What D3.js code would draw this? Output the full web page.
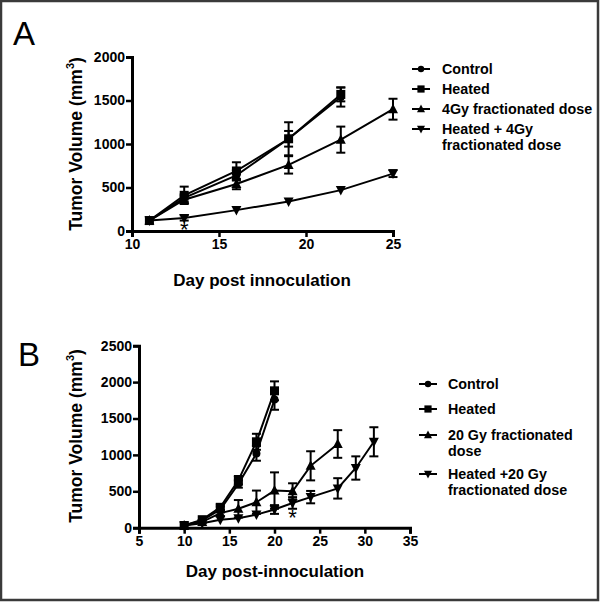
<!DOCTYPE html>
<html><head><meta charset="utf-8">
<script src="https://cdn.jsdelivr.net/npm/d3@7"></script>
<style>
html,body{margin:0;padding:0;background:#fff;}
svg{display:block;}
text{font-family:"Liberation Sans",Arial,sans-serif;}
</style></head>
<body>
<script>
// ---------- Panel A data ----------
const daysA = [11, 13, 16, 19, 22, 25];
const controlA = [120, 380, 640, 1060, 1540];
const controlAErr = [15, 40, 60, 190, 110];
const heatedA = [120, 410, 690, 1060, 1570];
const heatedAErr = [15, 100, 100, 90, 80];
const gy4A = [120, 360, 540, 760, 1050, 1400];
const gy4AErr = [15, 40, 60, 100, 150, 120];
const heatedGy4A = [120, 150, 240, 340, 470, 660];
const heatedGy4AErr = [10, 30, 15, 15, 15, 40];
const labelsA = ["Control", "Heated", "4Gy fractionated dose", ["Heated + 4Gy", "fractionated dose"]];
const xTicksA = [10, 15, 20, 25];
const yTicksA = [0, 500, 1000, 1500, 2000];

// ---------- Panel B data ----------
const daysB = [10, 12, 14, 16, 18, 20, 22, 24, 27, 29, 31];
const controlB = [30, 100, 250, 600, 1020, 1760];
const controlBErr = [10, 20, 40, 50, 100, 140];
const heatedB = [30, 110, 280, 650, 1180, 1880];
const heatedBErr = [10, 20, 40, 60, 110, 130];
const gy20B = [30, 80, 200, 260, 350, 510, 500, 850, 1150];
const gy20BErr = [10, 20, 40, 120, 160, 250, 110, 200, 190];
const heatedGy20B = [30, 60, 110, 130, 180, 250, 340, 420, 540, 820, 1180];
const heatedGy20BErr = [10, 15, 20, 20, 20, 60, 80, 85, 140, 160, 200];
const labelsB = ["Control", "Heated", ["20 Gy fractionated", "dose"], ["Heated +20 Gy", "fractionated dose"]];
const xTicksB = [5, 10, 15, 20, 25, 30, 35];
const yTicksB = [0, 500, 1000, 1500, 2000, 2500];

const W = 600, H = 602;
const svg = d3.select("body").append("svg").attr("width", W).attr("height", H);
svg.append("rect").attr("x", 1).attr("y", 1).attr("width", W - 3).attr("height", H - 3)
  .attr("fill", "#fff").attr("stroke", "#3a3a3a").attr("stroke-width", 2.5);

const symbols = ["circle", "square", "tri", "tridown"];
function marker(g, type, x, y, s) {
  s = s || 1;
  if (type === "circle") g.append("circle").attr("cx", x).attr("cy", y).attr("r", 4 * s).attr("fill", "#000");
  else if (type === "square") g.append("rect").attr("x", x - 4.5 * s).attr("y", y - 4.5 * s).attr("width", 9 * s).attr("height", 9 * s).attr("fill", "#000");
  else if (type === "tri") g.append("path").attr("d", `M${x},${y - 5.5 * s}L${x + 5 * s},${y + 4 * s}L${x - 5 * s},${y + 4 * s}Z`).attr("fill", "#000");
  else g.append("path").attr("d", `M${x},${y + 5.5 * s}L${x + 5 * s},${y - 4 * s}L${x - 5 * s},${y - 4 * s}Z`).attr("fill", "#000");
}

function panel(cfg) {
  const x = d3.scaleLinear().domain(cfg.xDomain).range([cfg.x0, cfg.x1]);
  const y = d3.scaleLinear().domain(cfg.yDomain).range([cfg.y0, cfg.y1]);
  const g = svg.append("g");
  cfg.series.forEach((s, i) => {
    const pts = s.vals.map((v, j) => ({ d: cfg.days[j], v: v, e: s.err[j] }));
    g.append("path").datum(pts)
      .attr("d", d3.line().x(p => x(p.d)).y(p => y(p.v)))
      .attr("fill", "none").attr("stroke", "#000").attr("stroke-width", 2);
    pts.forEach(p => {
      const cx = x(p.d);
      if (p.e > 20) {
        g.append("line").attr("x1", cx).attr("x2", cx).attr("y1", y(p.v - p.e)).attr("y2", y(p.v + p.e)).attr("stroke", "#000").attr("stroke-width", 2);
        [p.v - p.e, p.v + p.e].forEach(vv => g.append("line").attr("x1", cx - 4.5).attr("x2", cx + 4.5).attr("y1", y(vv)).attr("y2", y(vv)).attr("stroke", "#000").attr("stroke-width", 2));
      }
      marker(g, symbols[i], cx, y(p.v));
    });
  });
  const ax = g.append("g").attr("transform", `translate(0,${cfg.y0})`)
    .call(d3.axisBottom(x).tickValues(cfg.xTicks).tickFormat(d3.format("d")).tickSize(6).tickPadding(2));
  const ay = g.append("g").attr("transform", `translate(${cfg.x0},0)`)
    .call(d3.axisLeft(y).tickValues(cfg.yTicks).tickFormat(d3.format("d")).tickSize(6).tickPadding(1));
  [ax, ay].forEach(a => {
    a.select(".domain").attr("stroke-width", 3).attr("stroke", "#000");
    a.selectAll(".tick line").attr("stroke-width", 2.5).attr("stroke", "#000");
    a.selectAll("text").attr("font-size", cfg.tickFont).attr("font-weight", "bold").attr("fill", "#000")
      .attr("font-family", "'Liberation Sans', Arial, sans-serif");
  });
  g.append("text").attr("x", x(cfg.star[0])).attr("y", y(cfg.star[1])).attr("text-anchor", "middle")
    .attr("dominant-baseline", "central").attr("font-size", 22).text("*");
  const yt = g.append("text").attr("transform", `translate(${cfg.ytX},${cfg.ytY}) rotate(-90)`)
    .attr("text-anchor", "middle").attr("font-size", 17.5).attr("font-weight", "bold");
  yt.append("tspan").text("Tumor Volume (mm");
  yt.append("tspan").attr("font-size", 11).attr("dy", -8).text("3");
  yt.append("tspan").attr("dy", 8).text(")");
  g.append("text").attr("x", cfg.xtX).attr("y", cfg.xtY).attr("text-anchor", "middle")
    .attr("font-size", 17).attr("font-weight", "bold").text(cfg.xTitle);
  g.append("text").attr("x", cfg.letterX).attr("y", cfg.letterY).attr("font-size", 33).text(cfg.letter);
  cfg.labels.forEach((lab, i) => {
    const ly = cfg.legY[i];
    g.append("line").attr("x1", cfg.legX).attr("x2", cfg.legX + 18).attr("y1", ly).attr("y2", ly).attr("stroke", "#000").attr("stroke-width", 2);
    marker(g, symbols[i], cfg.legX + 9, ly, 0.8);
    const lines = Array.isArray(lab) ? lab : [lab];
    lines.forEach((t, k) => g.append("text").attr("x", cfg.legTextX).attr("y", ly + 5 + k * cfg.legLine)
      .attr("font-size", 14.3).attr("font-weight", "bold").text(t));
  });
}

panel({
  xDomain: [10, 25], yDomain: [0, 2000], x0: 132, x1: 393, y0: 231, y1: 57,
  days: daysA, xTicks: xTicksA, yTicks: yTicksA, tickFont: 14,
  series: [
    { vals: controlA, err: controlAErr }, { vals: heatedA, err: heatedAErr },
    { vals: gy4A, err: gy4AErr }, { vals: heatedGy4A, err: heatedGy4AErr }],
  star: [13, 22], ytX: 82, ytY: 144, xtX: 262, xtY: 286, xTitle: "Day post innoculation",
  letter: "A", letterX: 13, letterY: 45,
  labels: labelsA, legX: 412, legTextX: 442, legY: [69, 89, 109, 129], legLine: 16
});

panel({
  xDomain: [5, 35], yDomain: [0, 2500], x0: 139, x1: 410, y0: 527.7, y1: 345.7,
  days: daysB, xTicks: xTicksB, yTicks: yTicksB, tickFont: 14,
  series: [
    { vals: controlB, err: controlBErr }, { vals: heatedB, err: heatedBErr },
    { vals: gy20B, err: gy20BErr }, { vals: heatedGy20B, err: heatedGy20BErr }],
  star: [22, 145], ytX: 82, ytY: 436, xtX: 275, xtY: 577, xTitle: "Day post-innoculation",
  letter: "B", letterX: 18, letterY: 366,
  labels: labelsB, legX: 419, legTextX: 448, legY: [384, 409, 435, 474], legLine: 16
});
</script>
</body></html>
